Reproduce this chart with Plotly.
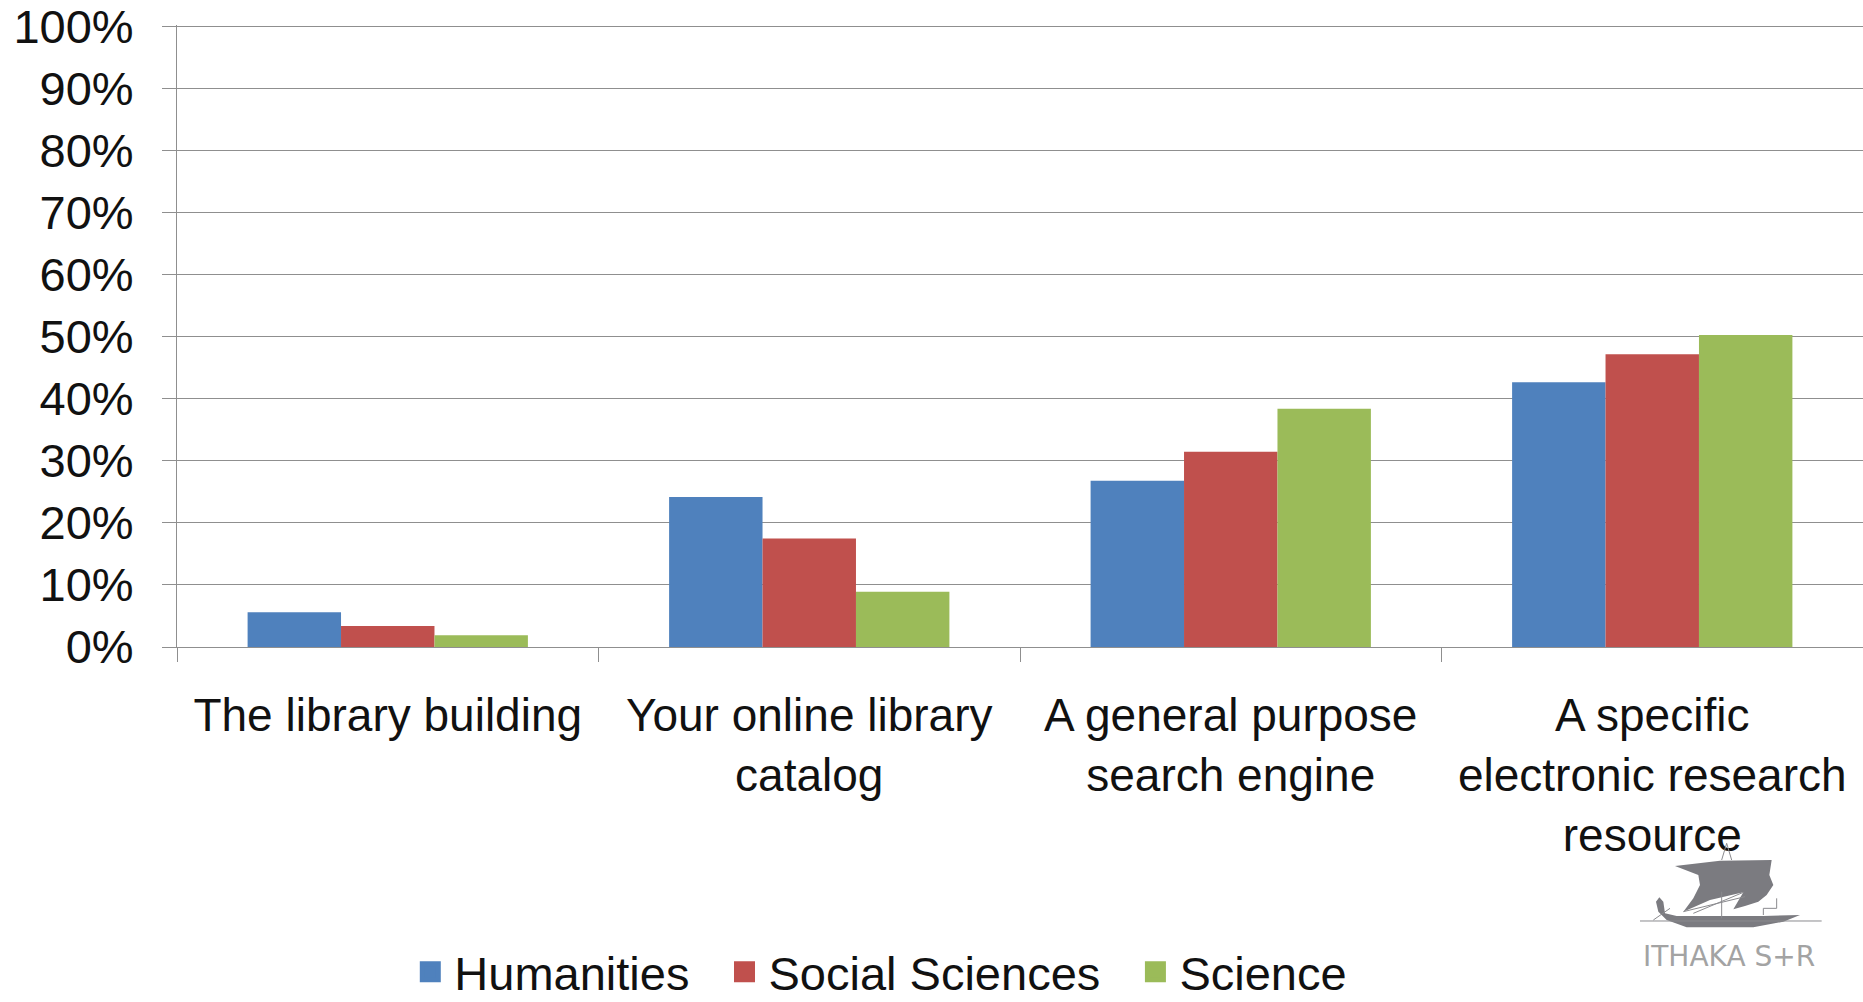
import plotly.graph_objects as go

categories = ["The library building", "Your online library<br>catalog", "A general purpose<br>search engine", "A specific<br>electronic research<br>resource"]
humanities = [5.6, 24.2, 26.8, 42.7]
social = [3.4, 17.5, 31.5, 47.2]
science = [1.9, 8.9, 38.4, 50.3]
names = ["Humanities", "Social Sciences", "Science"]
colors = ["#4F81BD", "#C0504D", "#9BBB59"]
ticks = list(range(0, 101, 10))
tick_labels = [f"{t}%" for t in ticks]

W, H = 1863, 1002
L, T, B = 177, 25, 355
LINE = "#8f8f8f"
TEXT = "#111111"

fig = go.Figure()
for n, v, c in zip(names, [humanities, social, science], colors):
    fig.add_trace(go.Bar(name=n, x=categories, y=v, marker_color=c, marker_line_width=0, showlegend=False))
    fig.add_trace(go.Scatter(name=n + "\u00a0\u00a0", x=[None], y=[None], mode="markers",
                             marker=dict(symbol="square", size=16, color=c, line=dict(color=c, width=5)),
                             showlegend=True))


def px(x, y):
    return (x - L) / (W - L), 1 - (y - T) / (H - T - B)


def zoomed(points):
    out = []
    for i, (zx, zy) in enumerate(points):
        fx, fy = px(1400 + zx / 3, 780 + zy / 3)
        out.append(("M" if i == 0 else "L") + f"{fx:.5f},{fy:.5f}")
    return " ".join(out)


SHIP = "#7b7b80"
ship_fills = [
    [(825, 258), (960, 242), (1115, 240), (1108, 285), (1120, 315), (1100, 345), (1075, 365), (1035, 378),
     (1000, 388), (1030, 337), (930, 360), (850, 395), (880, 355), (900, 315), (895, 285)],
    [(768, 365), (778, 352), (790, 365), (795, 400), (830, 408), (1090, 408), (1200, 405), (1150, 425),
     (1060, 442), (860, 442), (800, 420), (775, 395)],
]
ship_lines = [
    [(720, 423), (1265, 423)],
    [(965, 240), (980, 190), (995, 240)],
    [(965, 335), (965, 415)],
    [(850, 395), (1035, 350)],
    [(880, 400), (1030, 337)],
    [(760, 420), (810, 385)],
    [(1090, 405), (1090, 385), (1130, 385), (1130, 355)],
]
shapes = []
for pts in ship_fills:
    shapes.append(dict(type="path", xref="paper", yref="paper", path=zoomed(pts) + " Z",
                       fillcolor=SHIP, line=dict(width=0), layer="above"))
for pts in ship_lines:
    shapes.append(dict(type="path", xref="paper", yref="paper", path=zoomed(pts),
                       line=dict(color="#8a8a8e", width=1), layer="above"))

lx, ly = px(1729, 956)
fig.update_layout(
    width=W, height=H, barmode="group", bargap=0.335, bargroupgap=0,
    paper_bgcolor="white", plot_bgcolor="white",
    font=dict(family="Liberation Sans", size=46, color=TEXT),
    margin=dict(l=L, r=0, t=T, b=B, autoexpand=False),
    legend=dict(orientation="h", x=0.136, xanchor="left", y=-0.523, yanchor="middle", itemwidth=38,
                font=dict(size=47, color=TEXT), traceorder="normal", bgcolor="rgba(0,0,0,0)"),
    shapes=shapes,
    annotations=[dict(text="ITHAKA S+R", xref="paper", yref="paper", x=lx, y=ly, showarrow=False,
                      font=dict(family="DejaVu Sans", size=28, color="#a3a3a3"), yanchor="middle", xanchor="center")],
    xaxis=dict(showline=True, linecolor=LINE, linewidth=1, tickfont=dict(size=46, color=TEXT),
               ticks="outside", tickson="boundaries", ticklen=14, tickcolor=LINE, tickwidth=1,
               ticklabelstandoff=28, automargin=False),
    yaxis=dict(range=[0, 100.3], tickvals=ticks, ticktext=tick_labels, gridcolor=LINE, gridwidth=1,
               showline=True, linecolor=LINE, linewidth=1, ticks="outside", ticklen=14, tickcolor=LINE, tickwidth=1,
               ticklabelstandoff=19, tickfont=dict(size=47, color=TEXT), automargin=False, zeroline=False),
)
fig.write_html("out.html", config={"displayModeBar": False}, post_script="document.body.style.margin='0';")
